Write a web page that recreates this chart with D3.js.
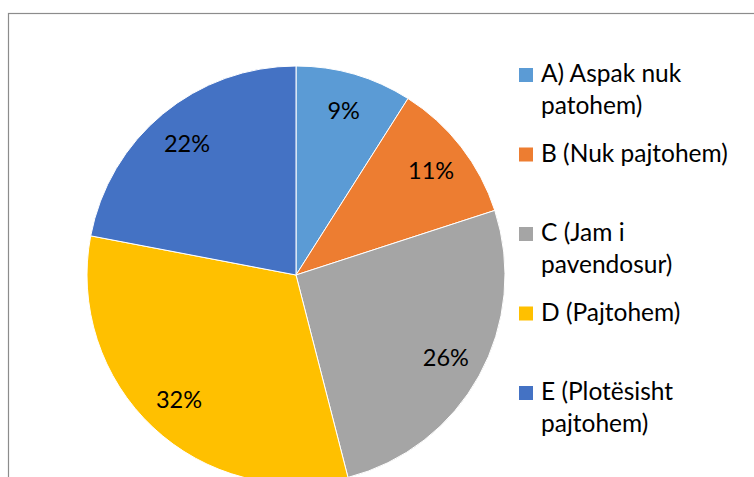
<!DOCTYPE html>
<html>
<head>
<meta charset="utf-8">
<script src="https://cdn.jsdelivr.net/npm/d3@7"></script>
<style>
  body { margin: 0; background: #fff; }
  svg { display: block; font-family: Lato, "Open Sans", sans-serif; }
</style>
</head>
<body>
<svg id="chart" width="754" height="477"></svg>
<script>
// data
const categories = ["A", "B", "C", "D", "E"];
const values = [9, 11, 26, 32, 22];
const legendLabels = [
  ["A) Aspak nuk", "patohem)"],
  ["B (Nuk pajtohem)"],
  ["C (Jam i", "pavendosur)"],
  ["D (Pajtohem)"],
  ["E (Plotësisht", "pajtohem)"]
];
const colors = ["#5B9BD5", "#ED7D31", "#A5A5A5", "#FFC000", "#4472C4"];

const width = 754, height = 477;
const cx = 296, cy = 275, radius = 209;

const svg = d3.select("#chart");

// chart frame (runs off the bottom / right of the picture)
svg.append("rect")
  .attr("x", 8.5)
  .attr("y", 13.5)
  .attr("width", 800)
  .attr("height", 600)
  .attr("fill", "none")
  .attr("stroke", "#8c8c8c")
  .attr("stroke-width", 1.2);

const data = categories.map((c, i) => ({ key: c, value: values[i], lines: legendLabels[i] }));

const pie = d3.pie().sort(null).value((d) => d.value);
const arcs = pie(data);

const arc = d3.arc().innerRadius(0).outerRadius(radius);
const labelArc = d3.arc().innerRadius(171).outerRadius(171);

const g = svg.append("g").attr("transform", `translate(${cx},${cy})`);

g.selectAll("path")
  .data(arcs)
  .join("path")
  .attr("d", arc)
  .attr("fill", (d, i) => colors[i])
  .attr("stroke", "#fff")
  .attr("stroke-width", 1);

g.selectAll("text.pct")
  .data(arcs)
  .join("text")
  .attr("class", "pct")
  .attr("transform", (d) => `translate(${labelArc.centroid(d)})`)
  .attr("text-anchor", "middle")
  .attr("dy", "0.36em")
  .attr("font-size", 23.5)
  .attr("fill", "#000")
  .text((d) => d.data.value + "%");

// legend
const legendX = 519, legendY0 = 82, legendStep = 79.5, lineH = 32;

const legend = svg.append("g");
const items = legend.selectAll("g")
  .data(data)
  .join("g")
  .attr("transform", (d, i) => `translate(${legendX},${legendY0 + i * legendStep})`);

items.append("rect")
  .attr("x", 0)
  .attr("y", -14)
  .attr("width", 14)
  .attr("height", 14)
  .attr("fill", (d, i) => colors[i]);

items.append("text")
  .attr("x", 22)
  .attr("font-size", 24.5)
  .attr("fill", "#000")
  .selectAll("tspan")
  .data((d) => d.lines)
  .join("tspan")
  .attr("x", 22)
  .attr("y", (d, i) => i * lineH)
  .text((d) => d);
</script>
</body>
</html>
